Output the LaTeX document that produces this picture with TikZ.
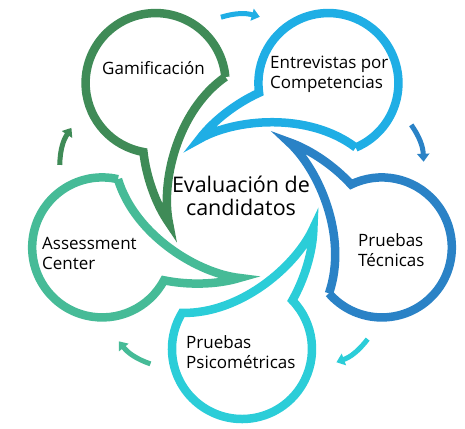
\documentclass[tikz,border=0pt]{standalone}
\usepackage{fontspec}
\setmainfont{Open Sans}
\usetikzlibrary{arrows.meta}
\definecolor{cG}{HTML}{3F8B57}
\definecolor{cE}{HTML}{1FAEE5}
\definecolor{cT}{HTML}{2A82C6}
\definecolor{cP}{HTML}{2BCDD8}
\definecolor{cA}{HTML}{46BB97}
\begin{document}
\begin{tikzpicture}[x=1pt,y=1pt,
  ring/.style={line width=8.5pt, line join=miter, miter limit=12},
  flowarrow/.style={line width=5pt, -{Triangle[width=12pt,length=8pt]}},
  lbl/.style={font=\fontsize{17}{20}\selectfont, align=left, inner sep=0pt, anchor=north west, text=black},
  ctr/.style={font=\fontsize{21.5}{23}\selectfont, align=center, inner sep=0pt, anchor=north, text=black}
]
\useasboundingbox (0,0) rectangle (465,428);
\coordinate (C) at (242,226);
\foreach \k/\col in {0/cP,1/cT,2/cE,3/cG,4/cA}{
  \begin{scope}[shift={(242,226)}, rotate=72*\k]
    \draw[ring, draw=\col] (-60.0,-110.95) arc[start angle=149, end angle=404, radius=70]
      .. controls (62,-78) and (71,-50) .. (71.4,-26)
      .. controls (55.1,-62.5) and (0,-112) .. cycle;
    \coordinate (as\k) at (-47.5:186);
    \coordinate (ae\k) at (-59.5:186);
    \draw[flowarrow, draw=\col, fill=\col] (as\k) to[bend left=16] (ae\k);
  \end{scope}
}
\node[lbl] (gam) at (102,367) {Gamificación};
\node[lbl] (ent) at (270,372) {Entrevistas por\\Competencias};
\node[lbl] (tec) at (358,195) {Pruebas\\Técnicas};
\node[lbl] (psi) at (186,93) {Pruebas\\Psicométricas};
\node[lbl] (ass) at (42,191) {Assessment\\Center};
\node[ctr] (eval) at (241,252) {Evaluación de\\candidatos};
\end{tikzpicture}
\end{document}
